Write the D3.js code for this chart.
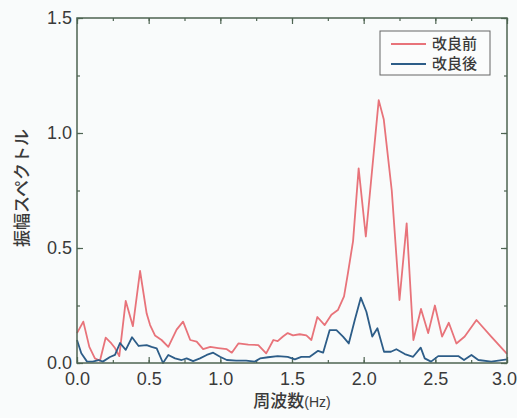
<!DOCTYPE html>
<html>
<head>
<meta charset="utf-8">
<script src="https://cdn.jsdelivr.net/npm/d3@7"></script>
<style>
    body { margin: 0; background: #f9fbfb; }
    .axis path, .axis line { stroke: #4e6452; stroke-width: 1.2; }
    .axis text { font-family: "Liberation Sans", Arial, sans-serif; font-size: 18px; fill: #3a3a3a; }
    .label { font-family: "Noto Sans CJK JP", sans-serif; font-size: 17px; font-weight: 500; fill: #3a3a3a; }
    .legendText { font-family: "Noto Sans CJK JP", sans-serif; font-size: 15px; font-weight: 500; fill: #3a3a3a; }
</style>
</head>
<body>
<script>
//data
var freqBefore = [0, 0.044, 0.086, 0.125, 0.16, 0.2, 0.24, 0.265, 0.295, 0.34, 0.39, 0.44, 0.486, 0.51, 0.544, 0.59, 0.637, 0.695, 0.74, 0.79, 0.835, 0.88, 0.93, 0.985, 1.045, 1.08, 1.126, 1.195, 1.265, 1.32, 1.37, 1.40, 1.437, 1.47, 1.507, 1.554, 1.60, 1.635, 1.677, 1.728, 1.775, 1.82, 1.863, 1.89, 1.926, 1.965, 2.015, 2.105, 2.14, 2.196, 2.25, 2.30, 2.347, 2.40, 2.45, 2.497, 2.547, 2.594, 2.647, 2.705, 2.787, 2.89, 3.0];
var ampBefore = [0.13, 0.18, 0.07, 0.02, 0.01, 0.11, 0.085, 0.065, 0.03, 0.27, 0.16, 0.40, 0.215, 0.165, 0.12, 0.10, 0.07, 0.145, 0.18, 0.10, 0.093, 0.06, 0.07, 0.065, 0.06, 0.045, 0.085, 0.08, 0.078, 0.042, 0.10, 0.095, 0.115, 0.13, 0.12, 0.125, 0.12, 0.10, 0.20, 0.165, 0.21, 0.23, 0.29, 0.39, 0.53, 0.846, 0.55, 1.143, 1.06, 0.75, 0.274, 0.607, 0.10, 0.235, 0.13, 0.25, 0.115, 0.175, 0.085, 0.115, 0.187, 0.115, 0.04];

var freqAfter = [0, 0.03, 0.07, 0.11, 0.15, 0.18, 0.23, 0.265, 0.30, 0.34, 0.384, 0.43, 0.486, 0.52, 0.556, 0.60, 0.637, 0.684, 0.73, 0.765, 0.81, 0.858, 0.905, 0.95, 0.998, 1.045, 1.11, 1.18, 1.24, 1.277, 1.333, 1.40, 1.47, 1.52, 1.565, 1.624, 1.682, 1.717, 1.763, 1.81, 1.856, 1.896, 1.938, 1.98, 2.019, 2.06, 2.096, 2.142, 2.19, 2.228, 2.287, 2.345, 2.398, 2.426, 2.47, 2.52, 2.566, 2.61, 2.66, 2.70, 2.752, 2.80, 2.89, 3.0];
var ampAfter = [0.10, 0.042, 0.006, 0.006, 0.013, 0.006, 0.026, 0.035, 0.087, 0.057, 0.112, 0.074, 0.078, 0.07, 0.064, 0.0, 0.035, 0.02, 0.013, 0.02, 0.008, 0.02, 0.035, 0.045, 0.027, 0.013, 0.01, 0.01, 0.006, 0.02, 0.025, 0.03, 0.027, 0.016, 0.027, 0.027, 0.053, 0.045, 0.143, 0.143, 0.115, 0.085, 0.187, 0.284, 0.223, 0.115, 0.151, 0.049, 0.049, 0.06, 0.039, 0.027, 0.067, 0.02, 0.006, 0.03, 0.03, 0.03, 0.03, 0.013, 0.035, 0.013, 0.006, 0.016];

var seriesNames = ["改良前", "改良後"];
var seriesColors = ["#e8737a", "#2d5d88"];
var xTicks = [0, 0.5, 1.0, 1.5, 2.0, 2.5, 3.0];
var yTicks = [0, 0.5, 1.0, 1.5];

//chart frame
var width = 517, height = 418,
    plotLeft = 77, plotRight = 507, plotTop = 18, plotBottom = 363;

var svg = d3.select("body")
    .append("svg")
    .attr("width", width)
    .attr("height", height);

var x = d3.scaleLinear().domain([0, 3]).range([plotLeft, plotRight]);
var y = d3.scaleLinear().domain([0, 1.5]).range([plotBottom, plotTop]);

//minor ticks every 0.25
var xMinor = d3.range(0, 3.01, 0.25), yMinor = d3.range(0, 1.51, 0.25);

function addAxis(gen, tr){
    var g = svg.append("g")
        .attr("class", "axis")
        .attr("transform", tr)
        .call(gen);
    g.select(".domain").remove();
    return g;
}

var fmt = d3.format(".1f");
//minor ticks
addAxis(d3.axisBottom(x).tickValues(xMinor).tickSize(-3).tickFormat(""), "translate(0," + plotBottom + ")");
addAxis(d3.axisTop(x).tickValues(xMinor).tickSize(-3).tickFormat(""), "translate(0," + plotTop + ")");
addAxis(d3.axisLeft(y).tickValues(yMinor).tickSize(-3).tickFormat(""), "translate(" + plotLeft + ",0)");
addAxis(d3.axisRight(y).tickValues(yMinor).tickSize(-3).tickFormat(""), "translate(" + plotRight + ",0)");
//major ticks (inward)
var xAxis = addAxis(d3.axisBottom(x).tickValues(xTicks).tickSize(-6).tickPadding(9).tickFormat(fmt), "translate(0," + plotBottom + ")");
addAxis(d3.axisTop(x).tickValues(xTicks).tickSize(-6).tickFormat(""), "translate(0," + plotTop + ")");
addAxis(d3.axisLeft(y).tickValues(yTicks).tickSize(-6).tickPadding(5).tickFormat(fmt), "translate(" + plotLeft + ",0)");
addAxis(d3.axisRight(y).tickValues(yTicks).tickSize(-6).tickFormat(""), "translate(" + plotRight + ",0)");
//keep last x label inside the window
xAxis.selectAll("text").filter(function(d){ return d === 3; }).attr("dx", -3);

//lines
var line = d3.line()
    .x(function(d){ return x(d[0]); })
    .y(function(d){ return y(d[1]); });

var dataBefore = freqBefore.map(function(f, i){ return [f, ampBefore[i]]; });
var dataAfter = freqAfter.map(function(f, i){ return [f, ampAfter[i]]; });

svg.append("path")
    .datum(dataBefore)
    .attr("d", line)
    .attr("fill", "none")
    .attr("stroke", seriesColors[0])
    .attr("stroke-width", 1.8)
    .attr("stroke-linejoin", "round");

svg.append("path")
    .datum(dataAfter)
    .attr("d", line)
    .attr("fill", "none")
    .attr("stroke", seriesColors[1])
    .attr("stroke-width", 1.8)
    .attr("stroke-linejoin", "round");

//plot frame
svg.append("rect")
    .attr("x", plotLeft)
    .attr("y", plotTop)
    .attr("width", plotRight - plotLeft)
    .attr("height", plotBottom - plotTop)
    .attr("fill", "none")
    .attr("stroke", "#4e6452")
    .attr("stroke-width", 1.5);

//legend
var legend = svg.append("g");
legend.append("rect")
    .attr("x", 380).attr("y", 31)
    .attr("width", 110).attr("height", 44)
    .attr("fill", "#fbfcfc")
    .attr("stroke", "#666")
    .attr("stroke-width", 1);
seriesNames.forEach(function(name, i){
    var ly = 44 + i * 20;
    legend.append("line")
        .attr("x1", 391).attr("x2", 426)
        .attr("y1", ly).attr("y2", ly)
        .attr("stroke", seriesColors[i])
        .attr("stroke-width", 1.8);
    legend.append("text")
        .attr("class", "legendText")
        .attr("x", 432).attr("y", ly + 5)
        .text(name);
});

//axis titles
svg.append("text")
    .attr("class", "label")
    .attr("x", 292).attr("y", 407)
    .attr("text-anchor", "middle")
    .html('周波数<tspan style="font-family:Liberation Sans, Arial;font-size:14px;font-weight:normal">(Hz)</tspan>');

svg.append("text")
    .attr("class", "label")
    .attr("transform", "translate(28,188) rotate(-90)")
    .attr("text-anchor", "middle")
    .text("振幅スペクトル");
</script>
</body>
</html>
